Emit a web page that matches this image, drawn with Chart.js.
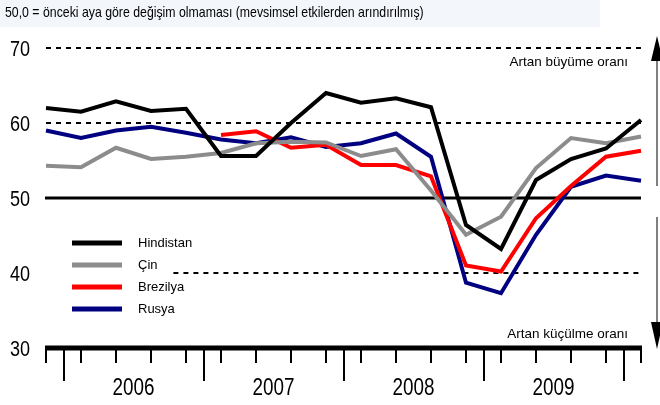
<!DOCTYPE html>
<html>
<head>
<meta charset="utf-8">
<script src="https://cdn.jsdelivr.net/npm/chart.js@4.4.0/dist/chart.umd.min.js"></script>
<style>
  html, body { margin: 0; padding: 0; background: #fff; }
  canvas { display: block; }
</style>
</head>
<body>
<canvas id="myChart" width="660" height="405"></canvas>
<script>
// quarterly points, 2005Q4 .. 2010Q1
let quarters = ["2005Q4","2006Q1","2006Q2","2006Q3","2006Q4","2007Q1","2007Q2","2007Q3","2007Q4",
                "2008Q1","2008Q2","2008Q3","2008Q4","2009Q1","2009Q2","2009Q3","2009Q4","2010Q1"];
let years = ["2006", "2007", "2008", "2009"];
let yTicks = [30, 40, 50, 60, 70];
let seriesNames = ["Hindistan", "Çin", "Brezilya", "Rusya"];
let seriesColors = ["#000000", "#8c8c8c", "#ff0000", "#000080"];

let hindistan = [62.0, 61.5, 62.9, 61.6, 61.9, 55.6, 55.6, 60.0, 64.0, 62.7, 63.3, 62.1, 46.4, 43.2, 52.4, 55.2, 56.6, 60.4];
let cin       = [54.3, 54.1, 56.7, 55.2, 55.5, 56.0, 57.3, 57.5, 57.4, 55.6, 56.5, 51.0, 45.1, 47.5, 54.0, 58.0, 57.3, 58.2];
let brezilya  = [null, null, null, null, null, 58.4, 58.9, 56.7, 57.1, 54.4, 54.4, 52.9, 41.0, 40.2, 47.3, 51.6, 55.5, 56.3];
let rusya     = [59.0, 58.0, 59.0, 59.5, 58.7, 57.8, 57.3, 58.1, 56.8, 57.3, 58.6, 55.5, 38.7, 37.3, 45.1, 51.5, 53.0, 52.3];

let title = "50,0 = önceki aya göre değişim olmaması (mevsimsel etkilerden arındırılmış)";
let upText = "Artan büyüme oranı";
let downText = "Artan küçülme oranı";

const FONT = "'Liberation Sans', Arial, sans-serif";

// condensed text (Arial Narrow look)
function narrowText(ctx, text, x, y, size, align) {
  ctx.save();
  ctx.translate(x, y);
  ctx.scale(0.82, 1);
  ctx.font = size + "px " + FONT;
  ctx.textAlign = align;
  ctx.textBaseline = "middle";
  ctx.fillStyle = "#000";
  ctx.fillText(text, 0, 0);
  ctx.restore();
}

const decor = {
  id: "decor",
  beforeDatasetsDraw(chart) {
    const ctx = chart.ctx, x = chart.scales.x, y = chart.scales.y;
    const left = x.getPixelForValue(0), right = x.getPixelForValue(quarters.length - 1);
    ctx.save();
    // title band
    ctx.fillStyle = "#f3f7fb";
    ctx.fillRect(0, 0, 600, 27);
    narrowText(ctx, title, 5, 13, 15, "left");

    // dashed reference lines
    ctx.strokeStyle = "#000";
    ctx.lineWidth = 2;
    ctx.setLineDash([5, 5]);
    [[70, 0], [60, 0], [40, 3.64]].forEach(([v, from]) => {
      const py = Math.round(y.getPixelForValue(v));
      ctx.beginPath();
      ctx.moveTo(x.getPixelForValue(from), py);
      ctx.lineTo(right, py);
      ctx.stroke();
    });
    ctx.setLineDash([]);
    // solid 50 line
    ctx.lineWidth = 3;
    const p50 = y.getPixelForValue(50);
    ctx.beginPath();
    ctx.moveTo(left - 1, p50);
    ctx.lineTo(right, p50);
    ctx.stroke();
    ctx.restore();
  },
  afterDatasetsDraw(chart) {
    const ctx = chart.ctx, x = chart.scales.x, y = chart.scales.y;
    const left = x.getPixelForValue(0), right = x.getPixelForValue(quarters.length - 1);
    const base = y.getPixelForValue(30);
    ctx.save();
    // axis line at 30
    ctx.strokeStyle = "#000";
    ctx.lineWidth = 5;
    ctx.beginPath();
    ctx.moveTo(left - 1, base);
    ctx.lineTo(right + 1, base);
    ctx.stroke();
    // quarter ticks
    ctx.lineWidth = 2;
    quarters.forEach((q, i) => {
      const px = Math.round(x.getPixelForValue(i));
      ctx.beginPath();
      ctx.moveTo(px, base);
      ctx.lineTo(px, base + 15);
      ctx.stroke();
    });
    // year separators and labels
    for (let k = 0; k <= years.length; k++) {
      const px = Math.round(x.getPixelForValue(0.5 + 4 * k));
      ctx.beginPath();
      ctx.moveTo(px, base);
      ctx.lineTo(px, base + 33);
      ctx.stroke();
    }
    years.forEach((yr, k) => {
      narrowText(ctx, yr, x.getPixelForValue(2.5 + 4 * k), base + 41, 23, "center");
    });
    // y labels
    yTicks.forEach(v => {
      narrowText(ctx, String(v), 20, y.getPixelForValue(v) + 2, 22, "center");
    });

    // legend
    seriesNames.forEach((name, i) => {
      const ly = 243 + i * 22;
      ctx.strokeStyle = seriesColors[i];
      ctx.lineWidth = 5;
      ctx.beginPath();
      ctx.moveTo(72, ly);
      ctx.lineTo(122, ly);
      ctx.stroke();
      ctx.fillStyle = "#000";
      ctx.font = "13px " + FONT;
      ctx.textAlign = "left";
      ctx.textBaseline = "middle";
      ctx.fillText(name, 138, ly);
    });

    // direction notes
    ctx.font = "13.5px " + FONT;
    ctx.textAlign = "right";
    ctx.textBaseline = "middle";
    ctx.fillText(upText, 628, 62);
    ctx.fillText(downText, 628, 334);

    // arrows on the right
    ctx.strokeStyle = "#555";
    ctx.fillStyle = "#000";
    ctx.lineWidth = 1.5;
    ctx.beginPath();
    ctx.moveTo(657, 186); ctx.lineTo(657, 55);
    ctx.moveTo(657, 217); ctx.lineTo(657, 330);
    ctx.stroke();
    ctx.beginPath();
    ctx.moveTo(657, 36); ctx.lineTo(651, 61); ctx.lineTo(663, 61); ctx.closePath();
    ctx.fill();
    ctx.beginPath();
    ctx.moveTo(657, 349); ctx.lineTo(651, 322); ctx.lineTo(663, 322); ctx.closePath();
    ctx.fill();
    ctx.restore();
  }
};

const seriesData = [hindistan, cin, brezilya, rusya];

new Chart("myChart", {
  type: "line",
  data: {
    labels: quarters,
    datasets: seriesData.map((d, i) => ({
      label: seriesNames[i],
      data: d,
      borderColor: seriesColors[i],
      borderWidth: 4,
      pointRadius: 0,
      tension: 0,
      fill: false,
      spanGaps: false
    }))
  },
  options: {
    responsive: false,
    animation: false,
    devicePixelRatio: 1,
    layout: { padding: { left: 46, right: 19, top: 48, bottom: 57 } },
    plugins: { legend: { display: false }, tooltip: { enabled: false } },
    scales: {
      x: { display: false, offset: false },
      y: { display: false, min: 30, max: 70 }
    }
  },
  plugins: [decor]
});
</script>
</body>
</html>
